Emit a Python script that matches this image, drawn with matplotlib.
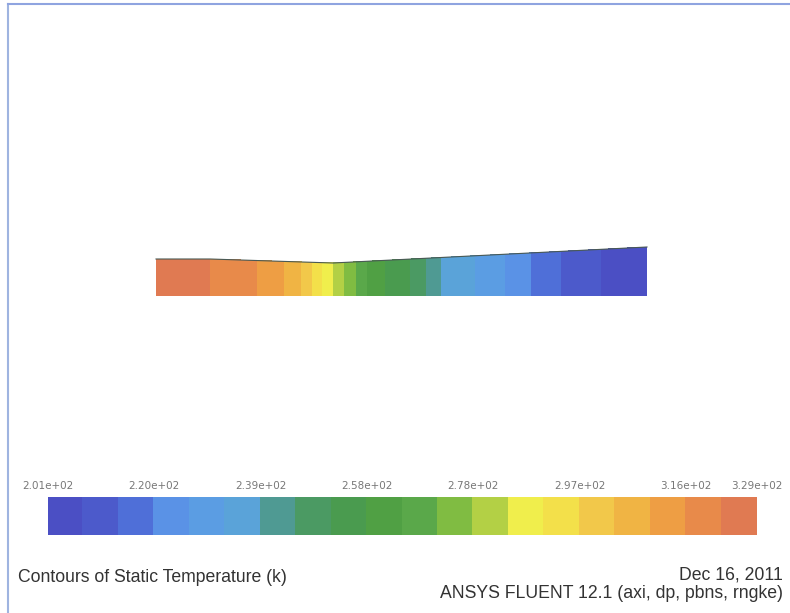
import numpy as np
import matplotlib
matplotlib.use("Agg")
import matplotlib.pyplot as plt
from matplotlib.colors import ListedColormap, BoundaryNorm
from matplotlib.lines import Line2D

# contour band colours (low -> high)
band_colors = ["#4b4fc4", "#4c5acb", "#4f6fd8", "#5a92e6", "#5b9de3",
               "#5aa3d9", "#4f9a93", "#4b9a63", "#4a9b4f", "#50a044",
               "#5aa84a", "#80bc42", "#b3d045", "#f0ee4c", "#f3e04a",
               "#f2c84a", "#f0b444", "#ee9e44", "#e88a4a", "#e07a52"]
t_min, t_max = 201.0, 328.6
tick_labels = ["2.01e+02", "2.20e+02", "2.39e+02", "2.58e+02",
               "2.78e+02", "2.97e+02", "3.16e+02", "3.29e+02"]

# nozzle wall (axial position, radius) in mm
wall_x = [0, 54, 177, 491]
wall_r = [37, 37, 33, 49]

# static temperature read along the nozzle (K)
station_x = [0, 54, 101, 127, 144, 156, 166, 177, 187, 199, 211,
             229, 254, 269, 284, 319, 349, 374, 404, 444, 491]
station_t = [327.5, 322.2, 315.8, 309.5, 303.1, 296.7, 290.3, 283.9,
             277.6, 271.2, 264.8, 258.4, 252.0, 245.7, 239.3, 232.9,
             226.5, 220.2, 213.8, 207.4, 203.0]

levels = np.linspace(t_min, t_max, len(band_colors) + 1)
cmap = ListedColormap(band_colors)
norm = BoundaryNorm(levels, cmap.N)

fig = plt.figure(figsize=(7.9, 6.13), dpi=100)
fig.patch.set_facecolor("white")

ax = fig.add_axes([0, 0, 1, 1])
ax.set_xlim(-156, 790 - 156)
ax.set_ylim(-317, 296)
ax.axis("off")

sx = np.array(station_x, dtype=float)
st = np.array(station_t)
top = np.interp(sx, wall_x, wall_r)
X = np.vstack([sx, sx])
Y = np.vstack([np.zeros_like(sx), top])
T = np.vstack([st, st])
ax.contourf(X, Y, T, levels=levels, cmap=cmap, norm=norm, antialiased=False)
ax.plot(wall_x, wall_r, color="#4a5a55", lw=0.8)

# legend bar
cax = fig.add_axes([48 / 790, 1 - 535 / 613, 709 / 790, 38 / 613])
sm = plt.cm.ScalarMappable(cmap=cmap, norm=norm)
cb = fig.colorbar(sm, cax=cax, orientation="horizontal")
cb.outline.set_visible(False)
cb.solids.set_edgecolor("face")
ticks = list(levels[::3]) + [levels[-1]]
cb.set_ticks(ticks)
cb.set_ticklabels(tick_labels)
cax.minorticks_off()
cax.xaxis.set_ticks_position("top")
cax.tick_params(axis="x", which="both", length=0, pad=4, labelsize=7.5,
                labelcolor="#777777")

fig.text(18 / 790, 1 - 577 / 613, "Contours of Static Temperature (k)",
         family="Liberation Sans", fontsize=12.7, color="#333333",
         ha="left", va="center")
fig.text(783 / 790, 1 - 575 / 613, "Dec 16, 2011",
         family="Liberation Sans", fontsize=12.7, color="#333333",
         ha="right", va="center")
fig.text(783 / 790, 1 - 594 / 613, "ANSYS FLUENT 12.1 (axi, dp, pbns, rngke)",
         family="Liberation Sans", fontsize=12.7, color="#333333",
         ha="right", va="center")

# window frame
fig.add_artist(Line2D([8 / 790, 8 / 790], [0, 1 - 4 / 613],
                      color="#9fb4e0", lw=1.5))
fig.add_artist(Line2D([8 / 790, 1], [1 - 4 / 613, 1 - 4 / 613],
                      color="#8fa4e0", lw=1.5))

fig.savefig("out.png", dpi=100, facecolor="white")
